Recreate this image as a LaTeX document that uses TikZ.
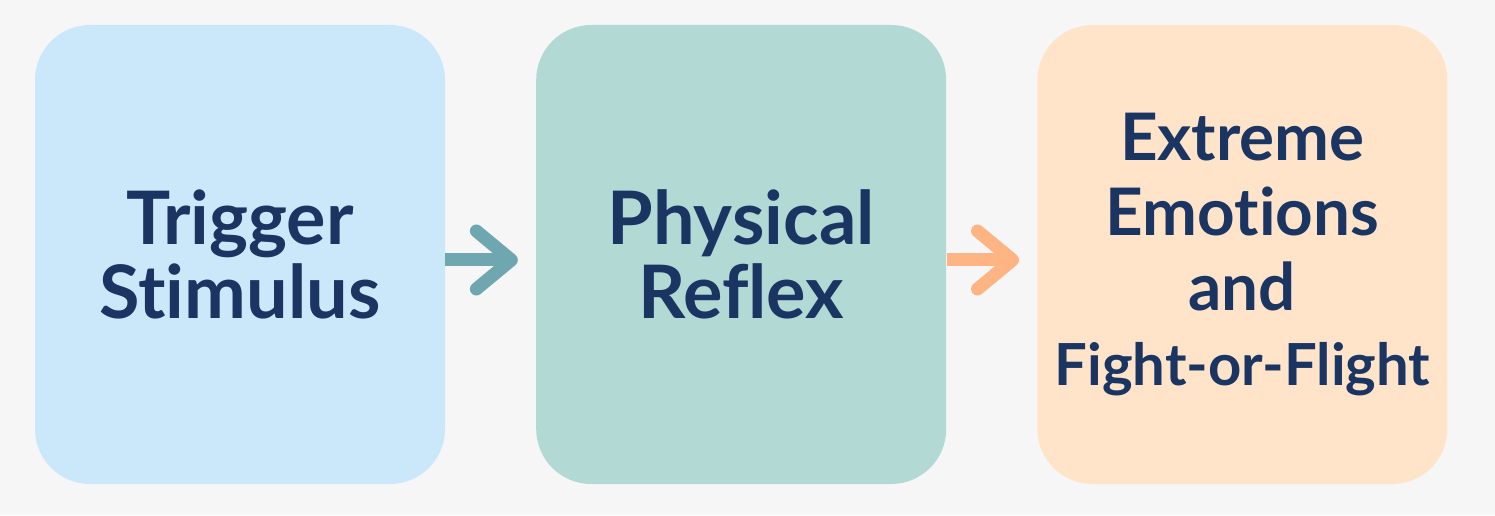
\documentclass[tikz,border=0pt]{standalone}
\usepackage{fontspec}
\setmainfont{Lato}[Ligatures=NoCommon]
\usetikzlibrary{positioning,arrows.meta}
\definecolor{bgcol}{HTML}{F6F6F6}
\definecolor{trigcol}{HTML}{CBE8FA}
\definecolor{physcol}{HTML}{B2D9D4}
\definecolor{emocol}{HTML}{FFE4C9}
\definecolor{inkcol}{HTML}{1B3563}
\definecolor{tealcol}{HTML}{6EA7AF}
\definecolor{orangecol}{HTML}{FFB484}
\begin{document}
\begin{tikzpicture}[line join=round, font=\bfseries, node distance=1.81cm]
			\tikzset{box/.style={rounded corners=1.1cm, minimum width=8.2cm, minimum height=9.18cm, text=inkcol, align=center, inner sep=0pt},
			flow/.style={line width=0.26cm, shorten >=0.36cm, -{Straight Barb[length=0.7cm, width=1.16cm, round]}}}
			\fill[bgcol] (0,0) rectangle (29.9,10.3);
			\useasboundingbox (0,0) rectangle (29.9,10.3);
			\node[box, fill=trigcol, font=\bfseries\fontsize{42}{42}\selectfont] (trig) at (4.8,5.21) {Trigger\\Stimulus};
			\node[box, fill=physcol, font=\bfseries\fontsize{42}{42}\selectfont, right=of trig] (phys) {Physical\\Reflex};
			\node[box, fill=emocol, font=\bfseries\fontsize{37.3}{42.7}\selectfont, right=of phys] (emo) {Extreme\\Emotions\\and\\{\fontsize{33}{42.7}\selectfont Fight-or-Flight}};
			\draw[flow, tealcol] ([yshift=-0.11cm]trig.east) -- ([yshift=-0.11cm]phys.west);
			\draw[flow, orangecol] ([yshift=-0.11cm]phys.east) -- ([yshift=-0.11cm]emo.west);
		\end{tikzpicture}
\end{document}
